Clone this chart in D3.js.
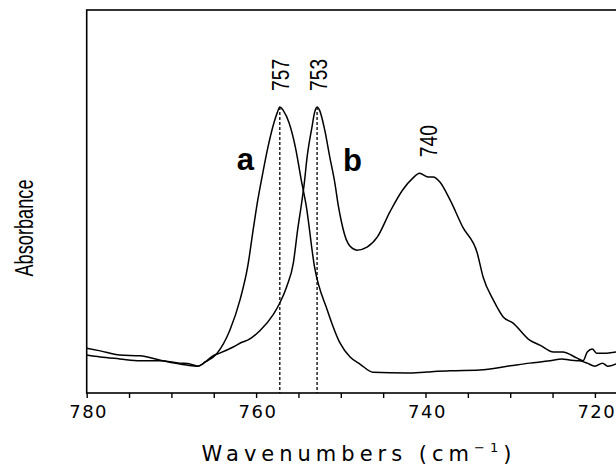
<!DOCTYPE html>
<html>
<head>
<meta charset="utf-8">
<script src="https://cdn.jsdelivr.net/npm/d3@7"></script>
<style>
  body { margin: 0; background: #fff; }
</style>
</head>
<body>
<div class="chart"></div>
<script>
// spectrum a
const waveA = [780.0, 778.4, 776.1, 773.7, 771.4, 768.2, 766.9, 766.0, 764.6, 763.1, 761.9, 761.0, 760.3, 759.8, 759.3, 758.6, 757.9, 757.5, 757.2, 756.8, 756.1, 755.3, 754.7, 754.1, 753.1, 751.6, 750.1, 748.9, 747.7, 746.2, 742.2, 739.8, 737.1, 733.6, 730.0, 727.7, 725.3, 723.9, 723.0, 721.8, 720.9, 720.0, 719.1, 718.5, 717.5]
const absA = [0.117, 0.110, 0.099, 0.097, 0.086, 0.073, 0.070, 0.081, 0.104, 0.164, 0.243, 0.329, 0.433, 0.504, 0.564, 0.642, 0.705, 0.732, 0.747, 0.738, 0.705, 0.635, 0.560, 0.491, 0.329, 0.217, 0.131, 0.094, 0.075, 0.054, 0.052, 0.055, 0.058, 0.060, 0.071, 0.078, 0.084, 0.089, 0.086, 0.084, 0.078, 0.070, 0.078, 0.070, 0.076]

// spectrum b
const waveB = [780.0, 778.4, 776.1, 773.7, 771.4, 769.0, 767.8, 766.9, 766.0, 765.1, 764.3, 762.7, 761.6, 761.0, 759.5, 758.0, 757.2, 756.4, 755.6, 755.1, 754.6, 754.3, 754.0, 753.4, 753.1, 752.8, 752.5, 751.9, 751.3, 750.7, 750.3, 750.0, 749.5, 748.9, 748.1, 746.9, 745.7, 744.2, 742.7, 741.5, 740.7, 739.7, 739.1, 738.3, 737.1, 735.6, 733.9, 733.2, 732.0, 730.8, 729.7, 727.7, 726.5, 724.9, 723.8, 722.1, 721.4, 720.9, 720.3, 719.8, 718.6, 717.5]
const absB = [0.099, 0.094, 0.089, 0.084, 0.084, 0.078, 0.076, 0.070, 0.081, 0.097, 0.104, 0.120, 0.133, 0.138, 0.164, 0.204, 0.235, 0.277, 0.340, 0.425, 0.500, 0.550, 0.612, 0.695, 0.732, 0.747, 0.738, 0.687, 0.616, 0.548, 0.490, 0.455, 0.410, 0.383, 0.373, 0.381, 0.407, 0.473, 0.530, 0.561, 0.574, 0.564, 0.564, 0.551, 0.504, 0.433, 0.366, 0.303, 0.243, 0.198, 0.183, 0.138, 0.125, 0.107, 0.107, 0.091, 0.084, 0.107, 0.115, 0.104, 0.104, 0.107]

// peak annotations
const peakLabels = ['757', '753', '740']
const peakWave = [757.2, 752.8, 739.8]
const peakAbs = [0.747, 0.747, 0.574]
const dashedPeaks = [757.2, 752.8]

const tickValues = d3.range(780, 714, -5)
const labelTicks = [780, 760, 740, 720]

let width = 616
let height = 465
const margin = {top: 10, left: 86.7, bottom: 72}
const pxPerUnit = 8.47

let svg = d3.select('.chart')
  .append('svg')
  .attr('width', width)
  .attr('height', height)

const plotBottom = height - margin.bottom

let xScale = d3.scaleLinear()
  .domain([780, 715])
  .range([margin.left, margin.left + 65 * pxPerUnit])

let yScale = d3.scaleLinear()
  .domain([0, 1])
  .range([plotBottom, margin.top])

// frame (right side runs off the page like the original)
svg.append('rect')
  .attr('x', margin.left)
  .attr('y', margin.top)
  .attr('width', xScale(715) - margin.left)
  .attr('height', plotBottom - margin.top)
  .attr('fill', 'none')
  .attr('stroke', '#000')
  .attr('stroke-width', 1.6)

const xAxis = d3.axisBottom(xScale)
  .tickValues(tickValues)
  .tickSize(5)
  .tickFormat(d => labelTicks.includes(d) ? d : '')

const xAxisGroup = svg.append('g')
  .attr('transform', `translate(0, ${plotBottom})`)
  .call(xAxis)

xAxisGroup.select('.domain').remove()
xAxisGroup.selectAll('line').attr('stroke-width', 1.4)
xAxisGroup.selectAll('text')
  .attr('y', 12)
  .attr('dx', '0.08em')
  .attr('fill', '#000')
  .attr('font-family', 'DejaVu Sans')
  .attr('font-size', '18px')
  .attr('letter-spacing', '1.5px')

// dashed peak markers
svg.selectAll('line.peak')
  .data(dashedPeaks)
  .enter()
  .append('line')
  .attr('class', 'peak')
  .attr('x1', d => xScale(d))
  .attr('x2', d => xScale(d))
  .attr('y1', yScale(0.747))
  .attr('y2', plotBottom)
  .attr('stroke', '#000')
  .attr('stroke-width', 1.3)
  .attr('stroke-dasharray', '3,2')

const line = d3.line()
  .x(d => xScale(d[0]))
  .y(d => yScale(d[1]))
  .curve(d3.curveMonotoneX)

const seriesA = waveA.map((w, i) => [w, absA[i]])
const seriesB = waveB.map((w, i) => [w, absB[i]])

svg.selectAll('path.spec')
  .data([seriesA, seriesB])
  .enter()
  .append('path')
  .attr('class', 'spec')
  .attr('d', line)
  .attr('fill', 'none')
  .attr('stroke', '#000')
  .attr('stroke-width', 1.5)
  .attr('stroke-linejoin', 'round')

// rotated peak labels
svg.selectAll('text.peaklbl')
  .data(peakLabels)
  .enter()
  .append('text')
  .attr('class', 'peaklbl')
  .text(d => d)
  .attr('transform', (d, i) => `translate(${xScale(peakWave[i]) + 9.5}, ${yScale(peakAbs[i]) - 16}) rotate(-90)`)
  .attr('font-family', 'Liberation Sans, Arial, sans-serif')
  .attr('font-size', '24px')
  .attr('textLength', 32)
  .attr('lengthAdjust', 'spacingAndGlyphs')

// curve letters
svg.append('text')
  .text('a')
  .attr('x', xScale(757.2) - 43)
  .attr('y', 170)
  .attr('font-family', 'Liberation Sans, Arial, sans-serif')
  .attr('font-weight', 'bold')
  .attr('font-size', '31px')

svg.append('text')
  .text('b')
  .attr('x', xScale(752.8) + 26)
  .attr('y', 171)
  .attr('font-family', 'Liberation Sans, Arial, sans-serif')
  .attr('font-weight', 'bold')
  .attr('font-size', '31px')

// axis titles
svg.append('text')
  .attr('transform', 'translate(33, 228) rotate(-90)')
  .attr('text-anchor', 'middle')
  .attr('font-family', 'Liberation Sans, Arial, sans-serif')
  .attr('font-size', '25px')
  .attr('textLength', 97)
  .attr('lengthAdjust', 'spacingAndGlyphs')
  .text('Absorbance')

const xTitle = svg.append('text')
  .attr('x', 359)
  .attr('y', 461)
  .attr('text-anchor', 'middle')
  .attr('font-family', 'DejaVu Sans')
  .attr('font-size', '21px')
  .attr('letter-spacing', '5px')

xTitle.append('tspan').text('Wavenumbers (cm')
xTitle.append('tspan').text('\u22121').attr('font-size', '13px').attr('dy', -9)
xTitle.append('tspan').text(')').attr('dy', 9)
</script>
</body>
</html>
